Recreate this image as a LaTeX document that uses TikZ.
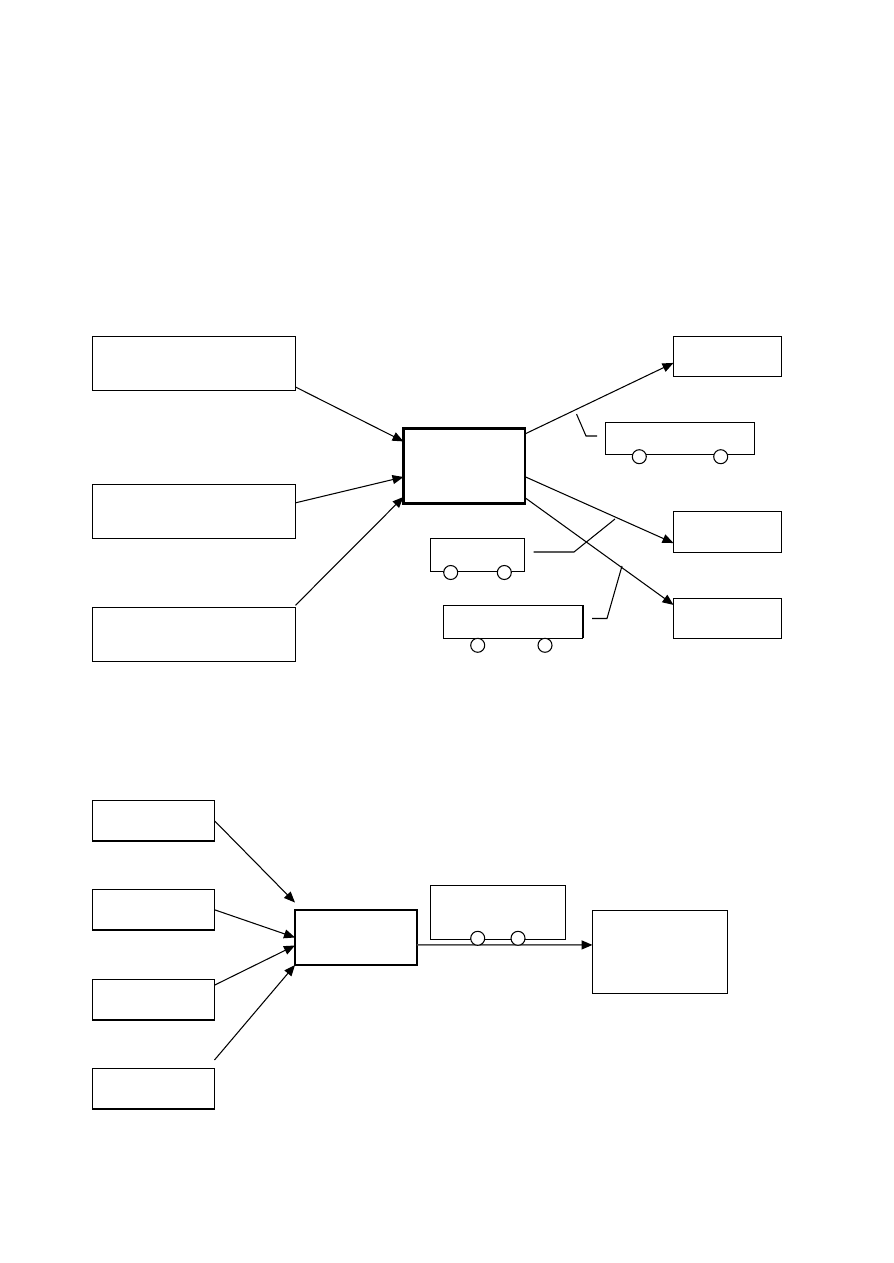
\documentclass[tikz,border=0pt]{standalone}
\usetikzlibrary{arrows.meta,calc}
\tikzset{
    box/.style={draw, black, line width=0.6pt, anchor=north west, inner sep=0pt, outer sep=0pt},
    heavybox/.style={box, line width=1.5pt},
    srcbox/.style={box, minimum width=4.06cm, minimum height=1.08cm},
    dstbox/.style={box, minimum width=2.16cm, minimum height=0.8cm},
    feedbox/.style={box, minimum width=2.44cm, minimum height=0.81cm},
    wheel/.style={draw, black, fill=white, circle, line width=0.6pt, inner sep=0pt, outer sep=0pt, minimum size=0.28cm},
    flow/.style={black, line width=0.6pt, -{Triangle[length=0.22cm, width=0.18cm, color=black]}},
    leader/.style={black, line width=0.6pt}
}
\begin{document}
\begin{tikzpicture}[x=0.02cm, y=-0.02cm]
    \useasboundingbox (0,0) rectangle (893,1263);

    % upper group
    \node[srcbox] (srcA) at (92.5,336.5) {};
    \node[srcbox] (srcB) at (92.5,484.5) {};
    \node[srcbox] (srcC) at (92.5,607.5) {};

    \node[heavybox, minimum width=2.43cm, minimum height=1.5cm] (hubA) at (403.5,428.7) {};

    \node[dstbox] (dstA) at (673.5,336.5) {};
    \node[dstbox, minimum height=0.82cm] (dstB) at (673.5,511.5) {};
    \node[dstbox] (dstC) at (673.5,598.5) {};

    \draw[flow] ($(srcA.north east)!0.935!(srcA.south east)$) -- ($(hubA.north west)!0.17!(hubA.south west)$);
    \draw[flow] ($(srcB.north east)!0.34!(srcB.south east)$) -- ($(hubA.north west)!0.644!(hubA.south west)$);
    \draw[flow] ($(srcC.north east)!-0.04!(srcC.south east)$) -- ($(hubA.north west)!0.91!(hubA.south west)$);

    \draw[flow] ($(hubA.north east)!0.07!(hubA.south east)$) -- ($(dstA.north west)!0.66!(dstA.south west)$);
    \draw[flow] ($(hubA.north east)!0.64!(hubA.south east)$) -- ($(dstB.north west)!0.77!(dstB.south west)$);
    \draw[flow] ($(hubA.north east)!0.92!(hubA.south east)$) -- ($(dstC.north west)!0.16!(dstC.south west)$);

    % vehicles on the outgoing lines
    \node[box, minimum width=2.98cm, minimum height=0.64cm] (busA) at (605.3,422.3) {};
    \node[wheel] (busAl) at (639.3,456.7) {};
    \node[wheel] (busAr) at (720.7,456.7) {};

    \node[box, minimum width=1.88cm, minimum height=0.66cm] (busB) at (430.3,538.3) {};
    \node[wheel] (busBl) at (450.7,572.5) {};
    \node[wheel] (busBr) at (504.3,572.5) {};

    \node[box, minimum width=2.79cm, minimum height=0.66cm] (busC) at (443.3,605.3) {};
    \draw[line width=1pt] (busC.north east) -- (busC.south east);
    \node[wheel] (busCl) at (477.7,645.3) {};
    \node[wheel] (busCr) at (545,645.3) {};

    \coordinate (tagA) at (576.5,414);
    \coordinate (bendA) at (586,436);
    \coordinate (endA) at (597,436);
    \draw[leader] (tagA) -- (bendA) -- (endA);

    \coordinate (tagB) at (533.5,552);
    \coordinate (bendB) at (574,552);
    \coordinate (endB) at (615,519);
    \draw[leader] (tagB) -- (bendB) -- (endB);

    \coordinate (tagC) at (592,618.5);
    \coordinate (bendC) at (607,618.5);
    \coordinate (endC) at (622,566);
    \draw[leader] (tagC) -- (bendC) -- (endC);

    % lower group
    \node[feedbox] (feedA) at (92.5,800.5) {};
    \node[feedbox] (feedB) at (92.5,889.5) {};
    \node[feedbox] (feedC) at (92.5,979.5) {};
    \node[feedbox] (feedD) at (92.5,1068.5) {};

    \node[heavybox, minimum width=2.44cm, minimum height=1.1cm] (hubB) at (295,910) {};
    \node[box, minimum width=2.7cm, minimum height=1.66cm] (store) at (592.5,910.5) {};

    \draw[flow] (feedA.east) -- ($(hubB.north west)!-0.136!(hubB.south west)$);
    \draw[flow] (feedB.east) -- (hubB.west);
    \draw[flow] ($(feedC.north east)!0.14!(feedC.south east)$) -- ($(hubB.north west)!0.645!(hubB.south west)$);
    \draw[flow] ($(feedD.north east)!-0.21!(feedD.south east)$) -- (hubB.south west);

    \draw[flow, line width=0.85pt, black!70] ($(hubB.north east)!0.636!(hubB.south east)$) -- ($(store.north west)!0.415!(store.south west)$);

    \node[box, minimum width=2.71cm, minimum height=1.08cm] (busD) at (430.3,885.3) {};
    \node[wheel] (busDl) at (477.7,938.3) {};
    \node[wheel] (busDr) at (518,938.3) {};
\end{tikzpicture}
\end{document}
